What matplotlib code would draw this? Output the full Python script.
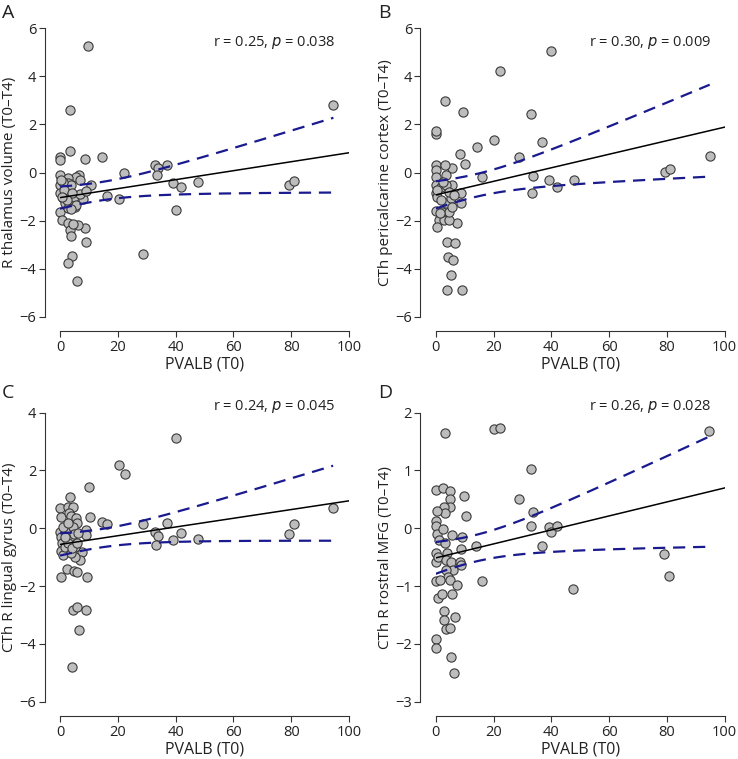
import numpy as np
import matplotlib.pyplot as plt

plt.rcParams['font.family'] = ['Open Sans', 'DejaVu Sans']

# ---- data ----
# panel A: R thalamus volume
x_a = [9.8, 94.6, 3.3, 3.5, 0.0, 0.0, 8.8, 14.4, 22.3, 33.0, 33.8, 33.4, 37.0, 39.2, 42.0, 47.9,
       40.2, 28.8, 20.4, 16.1, 10.6, 79.3, 80.9,
       0.0, 0.0, 0.0, 0.1, 0.8, 2.6, 3.5, 3.8, 4.0, 2.9, 6.0, 9.0, 8.8, 6.1, 4.6, 6.7, 5.5, 6.9,
       2.9, 2.6, 3.7, 1.2, 1.2, 1.7, 2.9, 5.2, 5.8, 4.8, 8.1, 6.9, 9.0, 1.4, 0.3, 4.0, 2.3, 5.5,
       3.7, 0.6]
y_a = [5.28, 2.82, 2.60, 0.91, 0.66, 0.52, 0.56, 0.66, 0.00, 0.31, 0.17, -0.10, 0.31, -0.44, -0.59, -0.40,
       -1.57, -3.40, -1.10, -0.99, -0.53, -0.51, -0.35,
       -0.10, -0.52, -0.87, -1.63, -1.99, -2.09, -2.39, -2.63, -3.48, -3.77, -4.50, -2.88, -2.30, -2.20, -2.16,
       -0.12, -0.17, -0.31, -0.22, -0.42, -0.52, -0.38, -1.08, -1.28, -1.49, -1.42, -1.14, -1.01, -1.12,
       -0.91, -0.77, -0.73, -0.31, -0.87, -1.14, -1.35, -1.53, -1.01]

# panel B: CTh pericalcarine cortex
x_b = [40.0, 22.3, 3.1, 9.6, 33.1, 0.0, 0.2, 20.1, 14.2, 36.8, 8.5, 10.3, 28.7, 94.8, 79.2, 81.1,
       16.0, 33.7, 33.2, 39.2, 42.0, 47.8, 8.8, 8.8, 7.4, 4.0, 6.7, 4.4, 6.0, 5.3, 3.8, 9.0,
       0.0, 0.0, 0.0, 0.0, 0.0, 0.6, 0.0, 1.2, 0.6, 2.9, 2.3, 4.6, 3.5, 4.6, 5.2, 5.8, 5.8, 5.5,
       3.2, 3.5, 1.7, 1.7, 3.7, 4.6, 2.5, 0.6, 6.3, 1.4]
y_b = [5.07, 4.21, 2.99, 2.52, 2.45, 1.62, 1.73, 1.35, 1.08, 1.27, 0.78, 0.37, 0.66, 0.69, 0.03, 0.16,
       -0.19, -0.13, -0.84, -0.31, -0.60, -0.30, -0.87, -1.28, -2.10, -2.88, -2.92, -3.53, -3.63, -4.25, -4.89, -4.89,
       0.31, 0.10, -0.17, -0.52, -0.87, -1.01, -1.60, -1.98, -2.25, -1.98, -1.63, -1.98, -1.28, -1.63, -1.08, -1.42,
       -0.52, 0.20, 0.31, -0.10, -1.14, -0.59, -0.52, -0.80, -0.38, -0.73, -0.94, -1.70]

# panel C: CTh R lingual gyrus
x_c = [40.1, 20.3, 22.4, 9.9, 3.5, 0.0, 0.3, 2.9, 4.6, 3.2, 3.8, 5.5, 6.0, 10.5, 14.4, 16.1,
       28.8, 36.9, 33.0, 33.9, 33.3, 39.2, 42.0, 47.9, 94.5, 79.3, 80.8, 9.0, 9.0, 7.6, 7.0,
       9.2, 0.2, 2.5, 4.8, 6.0, 4.4, 5.8, 8.9, 6.5, 4.0,
       0.0, 0.3, 0.6, 0.2, 1.2, 1.7, 2.3, 3.5, 2.9, 4.4, 4.8, 5.2, 5.3, 6.3, 1.7, 3.7, 1.2, 2.9,
       4.0, 6.0]
y_c = [3.13, 2.20, 1.88, 1.42, 1.09, 0.69, 0.40, 0.75, 0.75, 0.54, 0.42, 0.37, 0.17, 0.38, 0.22, 0.16,
       0.15, 0.17, -0.12, -0.25, -0.57, -0.42, -0.16, -0.36, 0.69, -0.18, 0.14, -0.06, -0.23, -0.83, -1.10,
       -1.68, -1.68, -1.41, -1.49, -1.50, -2.83, -2.71, -2.82, -3.52, -4.81,
       -0.12, -0.29, -0.52, -0.78, -0.93, -0.64, 0.00, -0.29, -0.52, 0.06, -0.20, -0.64, -0.98, -0.17,
       -0.29, -0.87, 0.06, 0.17, -0.69, -0.52]

# panel D: CTh R rostral MFG
x_d = [3.1, 20.2, 22.3, 94.6, 33.1, 28.7, 33.7, 33.1, 39.1, 39.9, 41.9, 36.8, 14.1, 16.0, 47.6,
       79.1, 80.7, 9.7, 10.4,
       0.0, 2.5, 5.0, 5.0, 4.8, 2.9, 3.2, 0.6, 0.0, 0.2, 0.6, 1.2, 2.5, 3.2, 5.5, 0.0, 0.0, 0.8,
       4.0, 3.7, 5.2, 6.0, 3.5, 4.3, 5.0, 0.0, 1.6, 0.8, 2.3, 3.0, 2.9, 3.5, 4.8, 0.0, 0.0, 5.2,
       6.2, 6.7, 5.7, 7.4, 9.0, 8.8, 8.5, 8.7]
y_d = [1.65, 1.72, 1.74, 1.69, 1.02, 0.51, 0.29, 0.04, 0.02, -0.07, 0.04, -0.30, -0.31, -0.92, -1.05,
       -0.45, -0.83, 0.56, 0.22,
       0.67, 0.69, 0.65, 0.50, 0.37, 0.37, 0.27, 0.30, 0.13, 0.04, -0.09, -0.20, -0.02, -0.26, -0.12,
       -0.43, -0.58, -0.49, -0.43, -0.55, -0.58, -0.73, -0.72, -0.84, -0.90, -0.92, -0.90, -1.21, -1.14,
       -1.43, -1.58, -1.75, -1.73, -1.91, -2.07, -2.22, -2.51, -1.54, -1.13, -0.98, -0.15, -0.36, -0.58, -0.64]

ylabels = ['R thalamus volume (T0–T4)', 'CTh pericalcarine cortex (T0–T4)',
           'CTh R lingual gyrus (T0–T4)', 'CTh R rostral MFG (T0–T4)']
stats = [('0.25', '0.038'), ('0.30', '0.009'), ('0.24', '0.045'), ('0.26', '0.028')]
letters = ['A', 'B', 'C', 'D']
ylims = [(-6, 6), (-6, 6), (-6, 4), (-3, 2)]
yticks = [np.arange(-6, 7, 2), np.arange(-6, 7, 2), np.arange(-6, 5, 2), np.arange(-3, 3, 1)]

W, H = 738, 759
fig = plt.figure(figsize=(W / 100, H / 100), dpi=100)

# pixel boxes of the data area: (x0, x100, ytop, ybottom)
boxes = [(60, 349, 28.3, 316.7), (435.7, 724.7, 28.3, 316.7),
         (60, 349, 412.7, 701.7), (435.7, 724.7, 412.7, 701.7)]
stat_y = [0.952, 0.952, 1.023, 1.023]
letter_pos = [(2, 13), (378, 13), (2, 393), (378, 393)]

navy = '#1a1a8f'
tcrit = 1.995

for i, (xs, ys) in enumerate([(x_a, y_a), (x_b, y_b), (x_c, y_c), (x_d, y_d)]):
    x0, x1, yt, yb = boxes[i]
    ax = fig.add_axes([x0 / W, 1 - yb / H, (x1 - x0) / W, (yb - yt) / H])
    xs = np.array(xs)
    ys = np.array(ys)

    # linear fit + 95% CI of the mean
    slope, inter = np.polyfit(xs, ys, 1)
    n = len(xs)
    resid = ys - (inter + slope * xs)
    s = np.sqrt(np.sum(resid ** 2) / (n - 2))
    sxx = np.sum((xs - xs.mean()) ** 2)
    xg = np.linspace(xs.min(), xs.max(), 200)
    yg = inter + slope * xg
    half = tcrit * s * np.sqrt(1 / n + (xg - xs.mean()) ** 2 / sxx)

    ax.scatter(xs, ys, s=44, facecolor='#bdbdbd', edgecolor='#3a3a3a', linewidth=0.8,
               zorder=2, clip_on=False)
    ax.plot([0, 100], [inter, inter + slope * 100], color='black', lw=1.1, zorder=3)
    ax.plot(xg, yg + half, color=navy, lw=1.6, dashes=(5.5, 3.5), zorder=3)
    ax.plot(xg, yg - half, color=navy, lw=1.6, dashes=(5.5, 3.5), zorder=3)

    ax.set_xlim(0, 100)
    ax.set_ylim(*ylims[i])
    ax.set_xticks(np.arange(0, 101, 20))
    ax.set_yticks(yticks[i])
    for side in ['top', 'right']:
        ax.spines[side].set_visible(False)
    ax.spines['left'].set_position(('outward', 11))
    ax.spines['bottom'].set_position(('outward', 10.5))
    ax.spines['left'].set_color('#333333')
    ax.spines['bottom'].set_color('#333333')
    ax.tick_params(labelsize=10.5, length=4, color='#333333', labelcolor='#222222', pad=2)
    ax.set_xlabel('PVALB (T0)', fontsize=11.5, color='#222222', labelpad=1)
    ax.set_ylabel(ylabels[i], fontsize=11, color='#222222', labelpad=2)

    r, p = stats[i]
    ax.text(0.952, stat_y[i], f'r = {r}, $\\it{{p}}$ = {p}', transform=ax.transAxes,
            ha='right', va='center', fontsize=10.5, color='#222222')
    lx, ly = letter_pos[i]
    fig.text(lx / W, 1 - ly / H, letters[i], fontsize=14, ha='left', va='center', color='#222222')

fig.savefig('out.png', dpi=100)
